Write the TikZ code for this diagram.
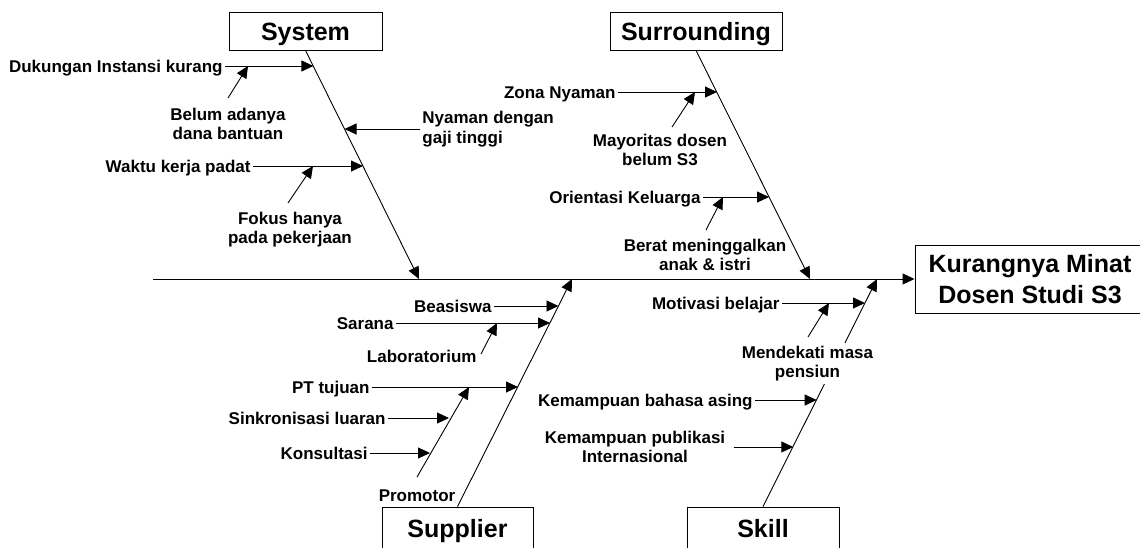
\documentclass[tikz,border=0pt]{standalone}
\usepackage{fontspec}
\setmainfont{Liberation Sans}
\usetikzlibrary{arrows.meta}

\begin{document}
\begin{tikzpicture}[x=1pt, y=-1pt, line width=0.9pt, >={Triangle[length=12pt,width=11pt]},
        box/.style={draw, font=\fontsize{25}{31}\selectfont\bfseries, text height=18pt, text depth=0pt},
        lbl/.style={font=\fontsize{17}{19.8}\selectfont\bfseries, inner sep=2pt, text height=12.2pt, text depth=0pt},
        note/.style={font=\fontsize{17}{19.8}\selectfont\bfseries, inner sep=2pt, align=center}]
        \clip (0,0) rectangle (1140,547);
        \draw
            (305.5,31) node[box, minimum width=153pt, minimum height=38pt] (0){System}
            (696,31) node[box, minimum width=172pt, minimum height=38pt] (1){Surrounding}
            (457.5,528) node[box, minimum width=151pt, minimum height=42pt] (2){Supplier}
            (763,528) node[box, minimum width=152pt, minimum height=42pt] (3){Skill}
            (1030,279) node[draw, align=center, font=\fontsize{25}{31}\selectfont\bfseries, minimum width=230pt, minimum height=68pt] (4){Kurangnya Minat\\Dosen Studi S3};
        % spine and bones
        \coordinate (tail) at (153,279);
        \coordinate (b0) at (419,279);
        \coordinate (b1) at (810,279);
        \coordinate (b2) at (572,279);
        \coordinate (b3) at (877,279);
        \begin{scope}[->]
            \draw (tail) to (4);
            \draw (0.south) to (b0);
            \draw (1.south) to (b1);
            \draw (2.north) to (b2);
            \draw (3.north) to (b3);
        \end{scope}
        % causes
        \draw
            (225,66) node[lbl, anchor=east] (5){Dukungan Instansi kurang}
            (228,124) node[note] (6){Belum adanya\\dana bantuan}
            (420,129) node[note, anchor=west, align=left] (7){Nyaman dengan\\gaji tinggi}
            (253,166) node[lbl, anchor=east] (8){Waktu kerja padat}
            (290,229.5) node[note] (9){Fokus hanya\\pada pekerjaan}
            (618,92) node[lbl, anchor=east] (10){Zona Nyaman}
            (660,150) node[note] (11){Mayoritas dosen\\belum S3}
            (703,197) node[lbl, anchor=east] (12){Orientasi Keluarga}
            (705,255) node[note] (13){Berat meninggalkan\\anak \& istri}
            (494,306) node[lbl, anchor=east] (14){Beasiswa}
            (396,323) node[lbl, anchor=east] (15){Sarana}
            (479,356) node[lbl, anchor=east] (16){Laboratorium}
            (372,387) node[lbl, anchor=east] (17){PT tujuan}
            (417,495) node[lbl] (18){Promotor}
            (388,418) node[lbl, anchor=east] (19){Sinkronisasi luaran}
            (370,453) node[lbl, anchor=east] (20){Konsultasi}
            (782,303) node[lbl, anchor=east] (21){Motivasi belajar}
            (807.5,363.5) node[note, fill=white, inner sep=3pt] (22){Mendekati masa\\pensiun}
            (755,400) node[lbl, anchor=east] (23){Kemampuan bahasa asing}
            (635,447) node[note] (24){Kemampuan publikasi\\Internasional};
        \coordinate (t5) at (313.4,66);
        \coordinate (t7) at (344.5,129);
        \coordinate (t8) at (363,166);
        \coordinate (t10) at (717,92);
        \coordinate (t12) at (769,197);
        \coordinate (t14) at (558.5,306);
        \coordinate (t15) at (550,323);
        \coordinate (t17) at (518,387);
        \coordinate (t19) at (449,418);
        \coordinate (t20) at (430,453);
        \coordinate (t21) at (865,303);
        \coordinate (t23) at (816.7,400);
        \coordinate (t24) at (793.3,447);
        \coordinate (s6) at (228,98);   \coordinate (t6) at (248,66);
        \coordinate (s9) at (288,203);  \coordinate (t9) at (313,166);
        \coordinate (s11) at (672,127); \coordinate (t11) at (695,92);
        \coordinate (s13) at (706,230); \coordinate (t13) at (723,197);
        \coordinate (s16) at (481,354); \coordinate (t16) at (497,323);
        \coordinate (s18) at (417,477); \coordinate (t18) at (469,387);
        \coordinate (s22) at (808,337); \coordinate (t22) at (829,303);
        \begin{scope}[->]
            \draw (5) to (t5);
            \draw (s6) to (t6);
            \draw (7) to (t7);
            \draw (8) to (t8);
            \draw (s9) to (t9);
            \draw (10) to (t10);
            \draw (s11) to (t11);
            \draw (12) to (t12);
            \draw (s13) to (t13);
            \draw (14) to (t14);
            \draw (15) to (t15);
            \draw (s16) to (t16);
            \draw (17) to (t17);
            \draw (s18) to (t18);
            \draw (19) to (t19);
            \draw (20) to (t20);
            \draw (21) to (t21);
            \draw (s22) to (t22);
            \draw (23) to (t23);
            \draw[shorten <=6pt] (24.east) to (t24);
        \end{scope}
\end{tikzpicture}
\end{document}
